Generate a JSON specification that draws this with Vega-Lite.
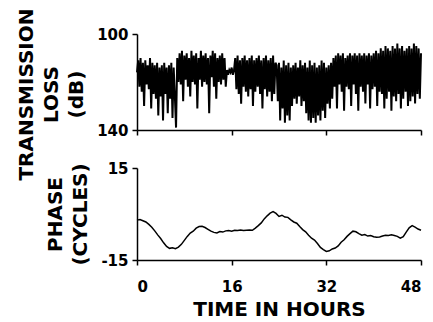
{
  "$schema": "https://vega.github.io/schema/vega-lite/v6.json",
  "background": "white",
  "padding": {"left": 16, "top": 7, "right": 5, "bottom": 2},
  "bounds": "flush",
  "spacing": 38,
  "config": {
    "font": "DejaVu Sans",
    "view": {"stroke": null},
    "axis": {
      "grid": false,
      "domainColor": "black",
      "domainWidth": 1.5,
      "tickColor": "black",
      "tickWidth": 1.5,
      "tickSize": 5,
      "labelColor": "black",
      "labelFont": "DejaVu Sans",
      "labelFontSize": 15,
      "labelFontWeight": "bold",
      "labelPadding": 4,
      "titleColor": "black",
      "titleFont": "DejaVu Sans",
      "titleFontSize": 20,
      "titleFontWeight": "bold"
    }
  },
  "vconcat": [
    {
      "width": 284,
      "height": 96,
      "data": {"values": [
{"t":0.0,"v":116},{"t":0.2,"v":111},{"t":0.4,"v":122},{"t":0.6,"v":110},{"t":0.8,"v":124},{"t":1.0,"v":112},{"t":1.2,"v":130},{"t":1.4,"v":111},{"t":1.6,"v":121},{"t":1.8,"v":113},{"t":2.0,"v":123},{"t":2.2,"v":110},{"t":2.4,"v":131},{"t":2.6,"v":112},
{"t":2.8,"v":125},{"t":3.0,"v":113},{"t":3.2,"v":127},{"t":3.4,"v":112},{"t":3.6,"v":134},{"t":3.8,"v":114},{"t":4.0,"v":126},{"t":4.2,"v":113},{"t":4.4,"v":136},{"t":4.6,"v":112},{"t":4.8,"v":125},{"t":5.0,"v":114},{"t":5.2,"v":133},{"t":5.4,"v":113},{"t":5.6,"v":127},{"t":5.8,"v":112},{"t":6.0,"v":135},{"t":6.2,"v":114},{"t":6.4,"v":126},
{"t":6.6,"v":139},
{"t":6.8,"v":110},{"t":7.0,"v":120},{"t":7.2,"v":108},{"t":7.4,"v":121},{"t":7.6,"v":107},{"t":7.8,"v":128},{"t":8.0,"v":109},{"t":8.2,"v":119},{"t":8.4,"v":108},{"t":8.6,"v":122},
{"t":8.8,"v":110},{"t":9.0,"v":126},{"t":9.2,"v":107},{"t":9.4,"v":120},{"t":9.6,"v":109},{"t":9.8,"v":121},{"t":10.0,"v":108},{"t":10.2,"v":131},{"t":10.4,"v":110},{"t":10.6,"v":119},
{"t":10.8,"v":107},{"t":11.0,"v":122},{"t":11.2,"v":109},{"t":11.4,"v":120},{"t":11.6,"v":108},{"t":11.8,"v":121},{"t":12.0,"v":110},{"t":12.2,"v":133},{"t":12.4,"v":109},{"t":12.6,"v":118},
{"t":12.8,"v":107},{"t":13.0,"v":122},{"t":13.2,"v":108},{"t":13.4,"v":127},{"t":13.6,"v":110},{"t":13.8,"v":120},{"t":14.0,"v":109},{"t":14.2,"v":121},{"t":14.4,"v":108},{"t":14.6,"v":119},
{"t":14.8,"v":110},{"t":15.0,"v":122},
{"t":15.2,"v":115},{"t":15.4,"v":117},{"t":15.6,"v":115},{"t":15.8,"v":116},{"t":16.0,"v":114},{"t":16.2,"v":117},{"t":16.4,"v":115},
{"t":16.6,"v":110},{"t":16.8,"v":123},{"t":17.0,"v":109},{"t":17.2,"v":125},{"t":17.4,"v":111},{"t":17.6,"v":129},{"t":17.8,"v":110},{"t":18.0,"v":122},{"t":18.2,"v":109},{"t":18.4,"v":124},
{"t":18.6,"v":111},{"t":18.8,"v":126},{"t":19.0,"v":110},{"t":19.2,"v":123},{"t":19.4,"v":109},{"t":19.6,"v":130},{"t":19.8,"v":111},{"t":20.0,"v":124},{"t":20.2,"v":110},{"t":20.4,"v":122},
{"t":20.6,"v":109},{"t":20.8,"v":125},{"t":21.0,"v":111},{"t":21.2,"v":131},{"t":21.4,"v":110},{"t":21.6,"v":123},{"t":21.8,"v":109},{"t":22.0,"v":126},{"t":22.2,"v":111},{"t":22.4,"v":124},
{"t":22.6,"v":110},{"t":22.8,"v":128},{"t":23.0,"v":109},{"t":23.2,"v":125},{"t":23.4,"v":112},
{"t":23.6,"v":113},{"t":23.8,"v":128},{"t":24.0,"v":112},{"t":24.2,"v":136},{"t":24.4,"v":114},{"t":24.6,"v":131},{"t":24.8,"v":111},{"t":25.0,"v":137},{"t":25.2,"v":113},{"t":25.4,"v":134},
{"t":25.6,"v":112},{"t":25.8,"v":136},{"t":26.0,"v":114},{"t":26.2,"v":130},{"t":26.4,"v":113},{"t":26.6,"v":127},{"t":26.8,"v":112},{"t":27.0,"v":129},{"t":27.2,"v":114},{"t":27.4,"v":126},
{"t":27.6,"v":111},{"t":27.8,"v":130},{"t":28.0,"v":113},{"t":28.2,"v":128},{"t":28.4,"v":112},{"t":28.6,"v":133},{"t":28.8,"v":114},{"t":29.0,"v":136},{"t":29.2,"v":111},{"t":29.4,"v":137},
{"t":29.6,"v":113},{"t":29.8,"v":135},{"t":30.0,"v":112},{"t":30.2,"v":137},{"t":30.4,"v":114},{"t":30.6,"v":134},{"t":30.8,"v":113},{"t":31.0,"v":136},{"t":31.2,"v":111},{"t":31.4,"v":132},
{"t":31.6,"v":112},{"t":31.8,"v":135},{"t":32.0,"v":114},{"t":32.2,"v":129},{"t":32.4,"v":113},{"t":32.6,"v":131},{"t":32.8,"v":112},{"t":33.0,"v":127},
{"t":33.2,"v":110},{"t":33.4,"v":122},{"t":33.6,"v":109},{"t":33.8,"v":131},{"t":34.0,"v":108},{"t":34.2,"v":121},{"t":34.4,"v":109},{"t":34.6,"v":124},{"t":34.8,"v":108},{"t":35.0,"v":132},
{"t":35.2,"v":110},{"t":35.4,"v":122},{"t":35.6,"v":109},{"t":35.8,"v":123},{"t":36.0,"v":108},{"t":36.2,"v":130},{"t":36.4,"v":109},{"t":36.6,"v":121},{"t":36.8,"v":108},{"t":37.0,"v":125},
{"t":37.2,"v":109},{"t":37.4,"v":132},{"t":37.6,"v":108},{"t":37.8,"v":122},{"t":38.0,"v":109},{"t":38.2,"v":124},{"t":38.4,"v":108},{"t":38.6,"v":129},{"t":38.8,"v":109},{"t":39.0,"v":121},
{"t":39.2,"v":108},{"t":39.4,"v":131},{"t":39.6,"v":109},{"t":39.8,"v":123},{"t":40.0,"v":108},{"t":40.2,"v":122},{"t":40.4,"v":107},{"t":40.6,"v":130},{"t":40.8,"v":108},{"t":41.0,"v":124},
{"t":41.2,"v":106},{"t":41.4,"v":125},{"t":41.6,"v":107},{"t":41.8,"v":131},{"t":42.0,"v":105},{"t":42.2,"v":127},{"t":42.4,"v":106},{"t":42.6,"v":124},{"t":42.8,"v":107},{"t":43.0,"v":132},
{"t":43.2,"v":105},{"t":43.4,"v":126},{"t":43.6,"v":106},{"t":43.8,"v":128},{"t":44.0,"v":104},{"t":44.2,"v":125},{"t":44.4,"v":106},{"t":44.6,"v":131},{"t":44.8,"v":105},{"t":45.0,"v":127},
{"t":45.2,"v":107},{"t":45.4,"v":124},{"t":45.6,"v":106},{"t":45.8,"v":130},{"t":46.0,"v":105},{"t":46.2,"v":128},{"t":46.4,"v":106},{"t":46.6,"v":126},{"t":46.8,"v":104},{"t":47.0,"v":129},
{"t":47.2,"v":105},{"t":47.4,"v":125},{"t":47.6,"v":106},{"t":47.8,"v":127},{"t":48.0,"v":108}
      ]},
      "mark": {"type": "line", "color": "black", "strokeWidth": 2, "interpolate": "linear"},
      "encoding": {
        "x": {"field": "t", "type": "quantitative",
              "scale": {"domain": [0, 48], "nice": false},
              "axis": {"values": [0, 16, 32, 48], "labels": false, "title": null}},
        "y": {"field": "v", "type": "quantitative",
              "scale": {"domain": [100, 140], "reverse": true, "nice": false, "zero": false},
              "axis": {"values": [100, 140], "title": ["TRANSMISSION", "LOSS", "(dB)"],
                       "titleLineHeight": 25, "titlePadding": 10, "titleY": 60}}
      }
    },
    {
      "width": 284,
      "height": 92,
      "data": {"values": [
{"t":0,"v":-2.0},{"t":0.5,"v":-1.8},{"t":1,"v":-2.2},{"t":1.5,"v":-2.6},{"t":2,"v":-3.4},{"t":2.5,"v":-4.3},{"t":3,"v":-5.5},{"t":3.5,"v":-6.8},{"t":4,"v":-8.0},{"t":4.5,"v":-9.4},
{"t":5,"v":-10.6},{"t":5.5,"v":-11.2},{"t":6,"v":-11.0},{"t":6.5,"v":-11.3},{"t":7,"v":-10.8},{"t":7.5,"v":-9.9},{"t":8,"v":-8.6},{"t":8.5,"v":-7.3},{"t":9,"v":-6.2},{"t":9.5,"v":-5.6},
{"t":10,"v":-4.6},{"t":10.5,"v":-4.1},{"t":11,"v":-4.0},{"t":11.5,"v":-4.4},{"t":12,"v":-5.0},{"t":12.5,"v":-5.6},{"t":13,"v":-6.0},{"t":13.5,"v":-6.2},{"t":14,"v":-5.7},{"t":14.5,"v":-5.9},
{"t":15,"v":-5.5},{"t":15.5,"v":-5.4},{"t":16,"v":-5.6},{"t":16.5,"v":-5.3},{"t":17,"v":-5.4},{"t":17.5,"v":-5.2},{"t":18,"v":-5.4},{"t":18.5,"v":-5.3},{"t":19,"v":-5.2},{"t":19.5,"v":-5.3},
{"t":20,"v":-4.6},{"t":20.5,"v":-3.8},{"t":21,"v":-2.9},{"t":21.5,"v":-1.6},{"t":22,"v":-0.6},{"t":22.5,"v":0.3},{"t":23,"v":0.8},{"t":23.5,"v":0.2},{"t":24,"v":-0.8},{"t":24.5,"v":-0.4},
{"t":25,"v":-1.0},{"t":25.5,"v":-1.1},{"t":26,"v":-1.9},{"t":26.5,"v":-2.6},{"t":27,"v":-3.0},{"t":27.5,"v":-4.1},{"t":28,"v":-5.1},{"t":28.5,"v":-5.8},{"t":29,"v":-6.9},{"t":29.5,"v":-7.9},
{"t":30,"v":-8.5},{"t":30.5,"v":-9.6},{"t":31,"v":-10.9},{"t":31.5,"v":-11.6},{"t":32,"v":-12.2},{"t":32.5,"v":-12.0},{"t":33,"v":-11.4},{"t":33.5,"v":-11.1},{"t":34,"v":-10.4},{"t":34.5,"v":-9.2},
{"t":35,"v":-8.4},{"t":35.5,"v":-7.3},{"t":36,"v":-6.4},{"t":36.5,"v":-5.6},{"t":37,"v":-5.8},{"t":37.5,"v":-6.4},{"t":38,"v":-6.9},{"t":38.5,"v":-6.7},{"t":39,"v":-7.2},{"t":39.5,"v":-7.0},
{"t":40,"v":-7.4},{"t":40.5,"v":-7.6},{"t":41,"v":-7.5},{"t":41.5,"v":-7.2},{"t":42,"v":-6.9},{"t":42.5,"v":-7.0},{"t":43,"v":-6.8},{"t":43.5,"v":-7.0},{"t":44,"v":-7.3},{"t":44.5,"v":-7.9},
{"t":45,"v":-7.4},{"t":45.5,"v":-5.9},{"t":46,"v":-4.5},{"t":46.5,"v":-3.8},{"t":47,"v":-4.3},{"t":47.5,"v":-4.9},{"t":48,"v":-5.3}
      ]},
      "mark": {"type": "line", "color": "black", "strokeWidth": 1.5},
      "encoding": {
        "x": {"field": "t", "type": "quantitative",
              "scale": {"domain": [0, 48], "nice": false},
              "axis": {"values": [0, 16, 32, 48], "title": "TIME IN HOURS", "titlePadding": 5, "labelPadding": 14}},
        "y": {"field": "v", "type": "quantitative",
              "scale": {"domain": [-15, 15], "nice": false, "zero": false},
              "axis": {"values": [-15, 15], "labelExpr": "replace(datum.label, '\u2212', '-')",
                       "title": ["PHASE", "(CYCLES)"],
                       "titleLineHeight": 25, "titlePadding": 10}}
      }
    }
  ]
}
